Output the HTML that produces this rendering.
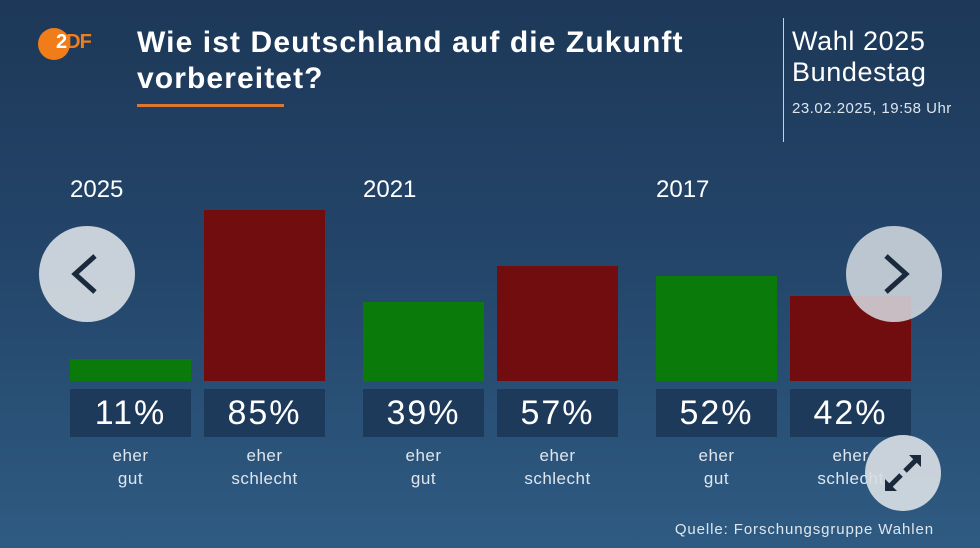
<!DOCTYPE html>
<html><head><meta charset="utf-8"><style>
body{margin:0;width:980px;height:548px;overflow:hidden;font-family:"Liberation Sans",sans-serif;background:linear-gradient(180deg,#1d3858 0%,#24466b 50%,#2f5b82 100%);position:relative;color:#fff}
.a{position:absolute}
.t{left:137px;top:25px;font-size:30px;font-weight:bold;line-height:36px;color:#fff;letter-spacing:1.1px}
.bar{position:absolute}
.g{background:#0a7a0a}.r{background:#720d0f}
.v{position:absolute;top:389px;height:48px;width:121px;background:#1d3a5a;font-size:34px;text-align:center;line-height:48px;color:#fff;letter-spacing:2px}
.l{position:absolute;top:444px;width:121px;text-align:center;font-size:17px;line-height:23px;color:#dfe6ee;letter-spacing:0.5px}
.y{position:absolute;top:176px;font-size:24px;color:#fff}
.c{position:absolute;border-radius:50%;background:rgba(215,221,227,0.92)}
</style></head><body>
<div class="a" style="left:38px;top:28px;width:32px;height:32px;border-radius:50%;background:#f07d1a"></div>
<div class="a" style="left:56px;top:31px;font-size:20px;font-weight:bold;color:#f07d1a;letter-spacing:-1px"><span style="color:#fff">2</span>DF</div>
<div class="a t">Wie ist Deutschland auf die Zukunft<br>vorbereitet?</div>
<div class="a" style="left:137px;top:104px;width:147px;height:3px;background:#d9782e"></div>
<div class="a" style="left:783px;top:18px;width:1px;height:124px;background:#c8d0d8"></div>
<div class="a" style="left:792px;top:26px;font-size:27px;line-height:31px;color:#fff;letter-spacing:0.6px">Wahl 2025<br>Bundestag</div>
<div class="a" style="left:792px;top:100px;font-size:15px;color:#dfe6ee;letter-spacing:0.5px">23.02.2025, 19:58 Uhr</div>
<div class="y" style="left:70px">2025</div><div class="y" style="left:363px">2021</div><div class="y" style="left:656px">2017</div>
<div class="bar g" style="left:70px;top:359px;width:121px;height:22px"></div>
<div class="bar r" style="left:204px;top:210px;width:121px;height:171px"></div>
<div class="bar g" style="left:363px;top:302px;width:121px;height:79px"></div>
<div class="bar r" style="left:497px;top:266px;width:121px;height:115px"></div>
<div class="bar g" style="left:656px;top:276px;width:121px;height:105px"></div>
<div class="bar r" style="left:790px;top:296px;width:121px;height:85px"></div>
<div class="v" style="left:70px">11%</div><div class="v" style="left:204px">85%</div>
<div class="v" style="left:363px">39%</div><div class="v" style="left:497px">57%</div>
<div class="v" style="left:656px">52%</div><div class="v" style="left:790px">42%</div>
<div class="l" style="left:70px">eher<br>gut</div><div class="l" style="left:204px">eher<br>schlecht</div>
<div class="l" style="left:363px">eher<br>gut</div><div class="l" style="left:497px">eher<br>schlecht</div>
<div class="l" style="left:656px">eher<br>gut</div><div class="l" style="left:790px">eher<br>schlecht</div>
<div class="a" style="right:46px;top:521px;font-size:15px;color:#dfe6ee;letter-spacing:0.9px">Quelle: Forschungsgruppe Wahlen</div>
<div class="c" style="left:39px;top:226px;width:96px;height:96px"><svg width="96" height="96"><polyline points="56,30 36,48 56,66" fill="none" stroke="#1a2a3c" stroke-width="5"/></svg></div>
<div class="c" style="left:846px;top:226px;width:96px;height:96px;background:rgba(215,221,227,0.85)"><svg width="96" height="96"><polyline points="40,30 60,48 40,66" fill="none" stroke="#1a2a3c" stroke-width="5"/></svg></div>
<div class="c" style="left:865px;top:435px;width:76px;height:76px"><svg width="76" height="76"><g stroke="#1a2a3c" stroke-width="5"><line x1="40" y1="36" x2="52" y2="24"/><line x1="36" y1="40" x2="24" y2="52"/></g><polygon points="44,20 56,20 56,32" fill="#1a2a3c"/><polygon points="20,44 20,56 32,56" fill="#1a2a3c"/></svg></div>
</body></html>
